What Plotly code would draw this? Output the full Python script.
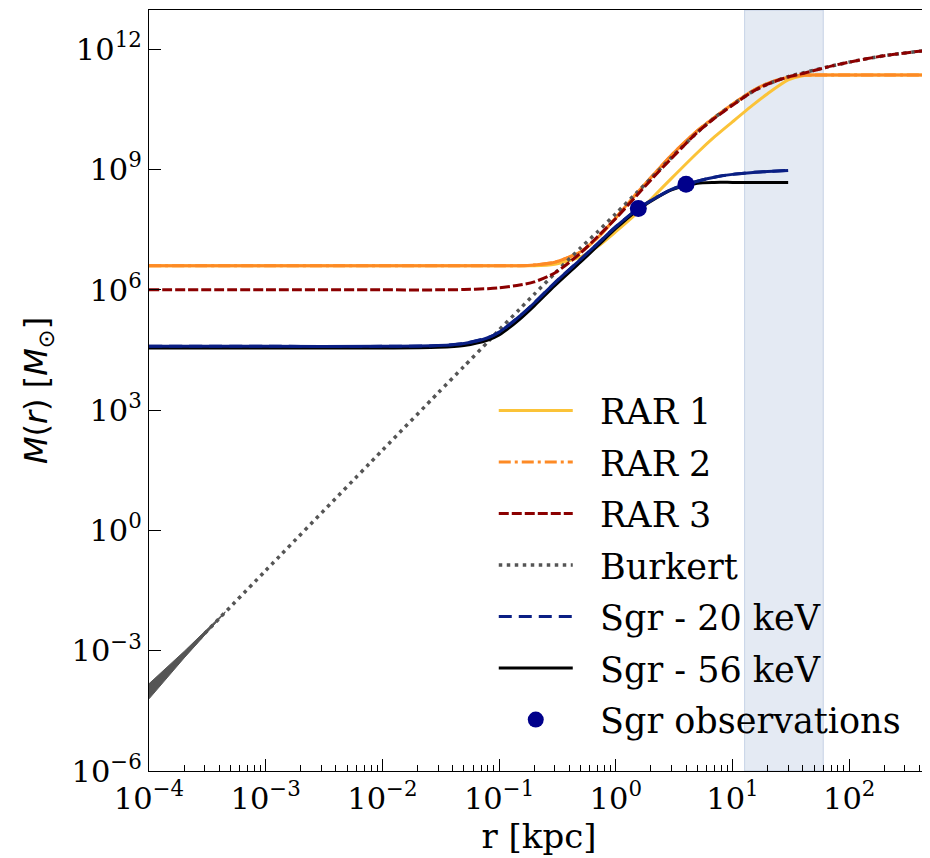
import plotly.graph_objects as go

# ---------------- data ----------------
r_grid = [1e-4, 1e-3, 1e-2, 0.03, 0.05, 0.08, 0.1, 0.15, 0.2, 0.3, 0.5, 0.7,
          1.0, 1.5, 2.0, 3.0, 5.0, 7.0, 10, 15, 20, 30, 40, 50, 70, 100, 200, 483]

m_rar1 = [3.98e6, 3.98e6, 3.98e6, 3.98e6, 3.98e6, 3.98e6, 3.98e6, 3.98e6, 3.98e6,
          4.37e6, 6.61e6, 1.20e7, 2.82e7, 7.94e7, 1.82e8, 6.03e8, 2.63e9, 6.5e9,
          1.55e10, 4.1e10, 7.8e10, 1.72e11, 2.2e11, 2.29e11, 2.29e11, 2.29e11, 2.29e11, 2.29e11]

m_rar2 = [3.98e6, 3.98e6, 3.98e6, 3.98e6, 3.98e6, 3.98e6, 3.98e6, 3.98e6, 4.17e6,
          4.90e6, 8.91e6, 2.00e7, 6.31e7, 2.51e8, 6.31e8, 2.29e9, 9.33e9, 2.0e10,
          4.27e10, 9.33e10, 1.41e11, 2.0e11, 2.25e11, 2.29e11, 2.29e11, 2.29e11, 2.29e11, 2.29e11]

m_rar3 = [1.0e6, 1.0e6, 1.0e6, 1.0e6, 1.02e6, 1.07e6, 1.12e6, 1.32e6, 1.58e6,
          2.63e6, 8.32e6, 2.14e7, 6.03e7, 2.2e8, 5.5e8, 1.9e9, 8.5e9, 1.9e10,
          4.0e10, 8.91e10, 1.35e11, 2.04e11, 2.5e11, 2.95e11, 3.80e11, 4.79e11, 6.92e11, 9.55e11]

m_burkert = [1.0e-4, 0.1, 100, 2.69e3, 1.23e4, 5.01e4, 1.0e5, 3.31e5, 7.76e5,
             2.57e6, 1.12e7, 2.82e7, 7.94e7, 2.6e8, 6.0e8, 2.0e9, 8.5e9, 1.95e10,
             4.17e10, 8.91e10, 1.35e11, 2.09e11, 2.57e11, 3.02e11, 3.80e11, 4.79e11, 6.92e11, 9.55e11]

# Burkert uncertainty wedge at very small radii
r_burkert_band = [1e-4, 2e-4, 4.5e-4]
m_burkert_lo = [6.3e-5, 6.6e-4, 9.0e-3]
m_burkert_hi = [1.5e-4, 9.6e-4, 9.4e-3]

r_sgr = [1e-4, 1e-3, 1e-2, 0.03, 0.05, 0.08, 0.1, 0.15, 0.2, 0.3, 0.5, 0.7,
         1.0, 1.5, 2.0, 3.0, 5.0, 7.0, 10, 15, 20, 30]
m_sgr20 = [3.9e4, 3.9e4, 3.9e4, 4.07e4, 4.6e4, 6.4e4, 8.8e4, 2.2e5, 4.7e5,
           1.5e6, 5.8e6, 1.43e7, 3.75e7, 9.9e7, 1.68e8, 3.2e8, 5.13e8, 6.46e8,
           7.59e8, 8.51e8, 8.91e8, 9.55e8]
m_sgr56 = [3.55e4, 3.55e4, 3.55e4, 3.7e4, 4.1e4, 5.6e4, 7.5e4, 1.85e5, 4.0e5,
           1.27e6, 5.0e6, 1.26e7, 3.39e7, 9.3e7, 1.62e8, 3.1e8, 4.57e8, 4.79e8,
           4.79e8, 4.79e8, 4.79e8, 4.79e8]

r_obs = [1.56, 4.0]
m_obs = [1.07e8, 4.3e8]
m_obs_err = [2.5e7, 6.0e7]

band_r = [12.7, 60.0]

y_tick_vals = [1e-6, 1e-3, 1e0, 1e3, 1e6, 1e9, 1e12]
y_tick_text = ["10<sup>−6</sup>", "10<sup>−3</sup>", "10<sup>0</sup>", "10<sup>3</sup>",
               "10<sup>6</sup>", "10<sup>9</sup>", "10<sup>12</sup>"]
x_tick_vals = [1e-4, 1e-3, 1e-2, 1e-1, 1e0, 1e1, 1e2]
x_tick_text = ["10<sup>−4</sup>", "10<sup>−3</sup>", "10<sup>−2</sup>", "10<sup>−1</sup>",
               "10<sup>0</sup>", "10<sup>1</sup>", "10<sup>2</sup>"]
x_minor_vals = [m * 10.0 ** e for e in range(-4, 3) for m in range(2, 10)]

# ---------------- styles ----------------
C_RAR1 = "#fbc338"
C_RAR2 = "#fd8a25"
C_RAR3 = "#8b0000"
C_BURK = "#555555"
C_SGR20 = "#0a1f84"
C_SGR56 = "#000000"
C_OBS = "#00008b"
SERIF = "DejaVu Serif"
LW = 3
PAD = "\u00a0\u00a0"

fig = go.Figure()


def add_line(x, y, name, color, dash, rank, show=True, width=LW):
    fig.add_trace(go.Scatter(
        x=x, y=y, mode="lines", name=PAD + name, showlegend=show,
        legendgroup=name, legendrank=rank,
        line=dict(color=color, width=width, dash=dash, shape="spline", smoothing=0.7),
        hoverinfo="skip"))


add_line(r_grid, m_rar1, "RAR 1", C_RAR1, "solid", 1)
add_line(r_grid, m_rar2, "RAR 2", C_RAR2, "12px,4px,3px,4px", 2)
add_line(r_grid, m_rar2, "RAR 2", C_RAR2, "solid", 2, show=False)

# Burkert wedge
fig.add_trace(go.Scatter(x=r_burkert_band, y=m_burkert_lo, mode="lines",
                         line=dict(color=C_BURK, width=1), showlegend=False, hoverinfo="skip"))
fig.add_trace(go.Scatter(x=r_burkert_band, y=m_burkert_hi, mode="lines", fill="tonexty",
                         fillcolor=C_BURK, line=dict(color=C_BURK, width=1),
                         showlegend=False, hoverinfo="skip"))
add_line(r_grid, m_burkert, "Burkert", C_BURK, "3.5px,4.5px", 4, width=3.5)
add_line(r_grid, m_rar3, "RAR 3", C_RAR3, "10px,3px", 3)

add_line(r_sgr, m_sgr56, "Sgr - 56 keV", C_SGR56, "solid", 6)
add_line(r_sgr, m_sgr20, "Sgr - 20 keV", C_SGR20, "13px,7px", 5)
add_line(r_sgr, m_sgr20, "Sgr - 20 keV", C_SGR20, "solid", 5, show=False)

fig.add_trace(go.Scatter(
    x=r_obs, y=m_obs, mode="markers", name=PAD + "Sgr observations", legendrank=7,
    legendgroup="obs",
    marker=dict(color=C_OBS, size=17, symbol="circle"),
    error_y=dict(type="data", array=m_obs_err, color=C_OBS, thickness=3, width=0),
    hoverinfo="skip"))

fig.add_vrect(x0=band_r[0], x1=band_r[1], fillcolor="rgba(190,204,226,0.42)",
              line=dict(color="rgba(170,188,218,0.6)", width=1), layer="below")

axis_common = dict(
    type="log", showgrid=False, zeroline=False, showline=True, linecolor="black",
    linewidth=1.2, mirror=True, ticks="inside", ticklen=12, tickwidth=1.2,
    tickcolor="black", tickfont=dict(family=SERIF, size=30.5, color="black"),
    automargin=False,
)

# the page adds an 8px body margin, so the figure is sized to fit the window
fig.update_layout(
    width=922, height=850,
    margin=dict(l=141, r=1, t=2, b=87),
    paper_bgcolor="white", plot_bgcolor="white",
    xaxis=dict(axis_common, range=[-4, 2.684], tickvals=x_tick_vals, ticktext=x_tick_text,
               minor=dict(tickvals=x_minor_vals, ticks="inside", ticklen=6,
                          tickcolor="black", tickwidth=1),
               title=dict(text="r [kpc]", font=dict(family=SERIF, size=34, color="black"),
                          standoff=2)),
    yaxis=dict(axis_common, range=[-6, 12.98], tickvals=y_tick_vals, ticktext=y_tick_text,
               title=dict(text="<i>M</i>(<i>r</i>) [<i>M</i><sub>⊙</sub>]",
                          font=dict(family="DejaVu Sans", size=32, color="black"),
                          standoff=14)),
    legend=dict(x=0.442, y=0.512, xanchor="left", yanchor="top",
                bgcolor="rgba(0,0,0,0)", font=dict(family=SERIF, size=35, color="black"),
                itemwidth=74, traceorder="grouped", tracegroupgap=3),
    showlegend=True,
)

fig.write_html("out.html")
